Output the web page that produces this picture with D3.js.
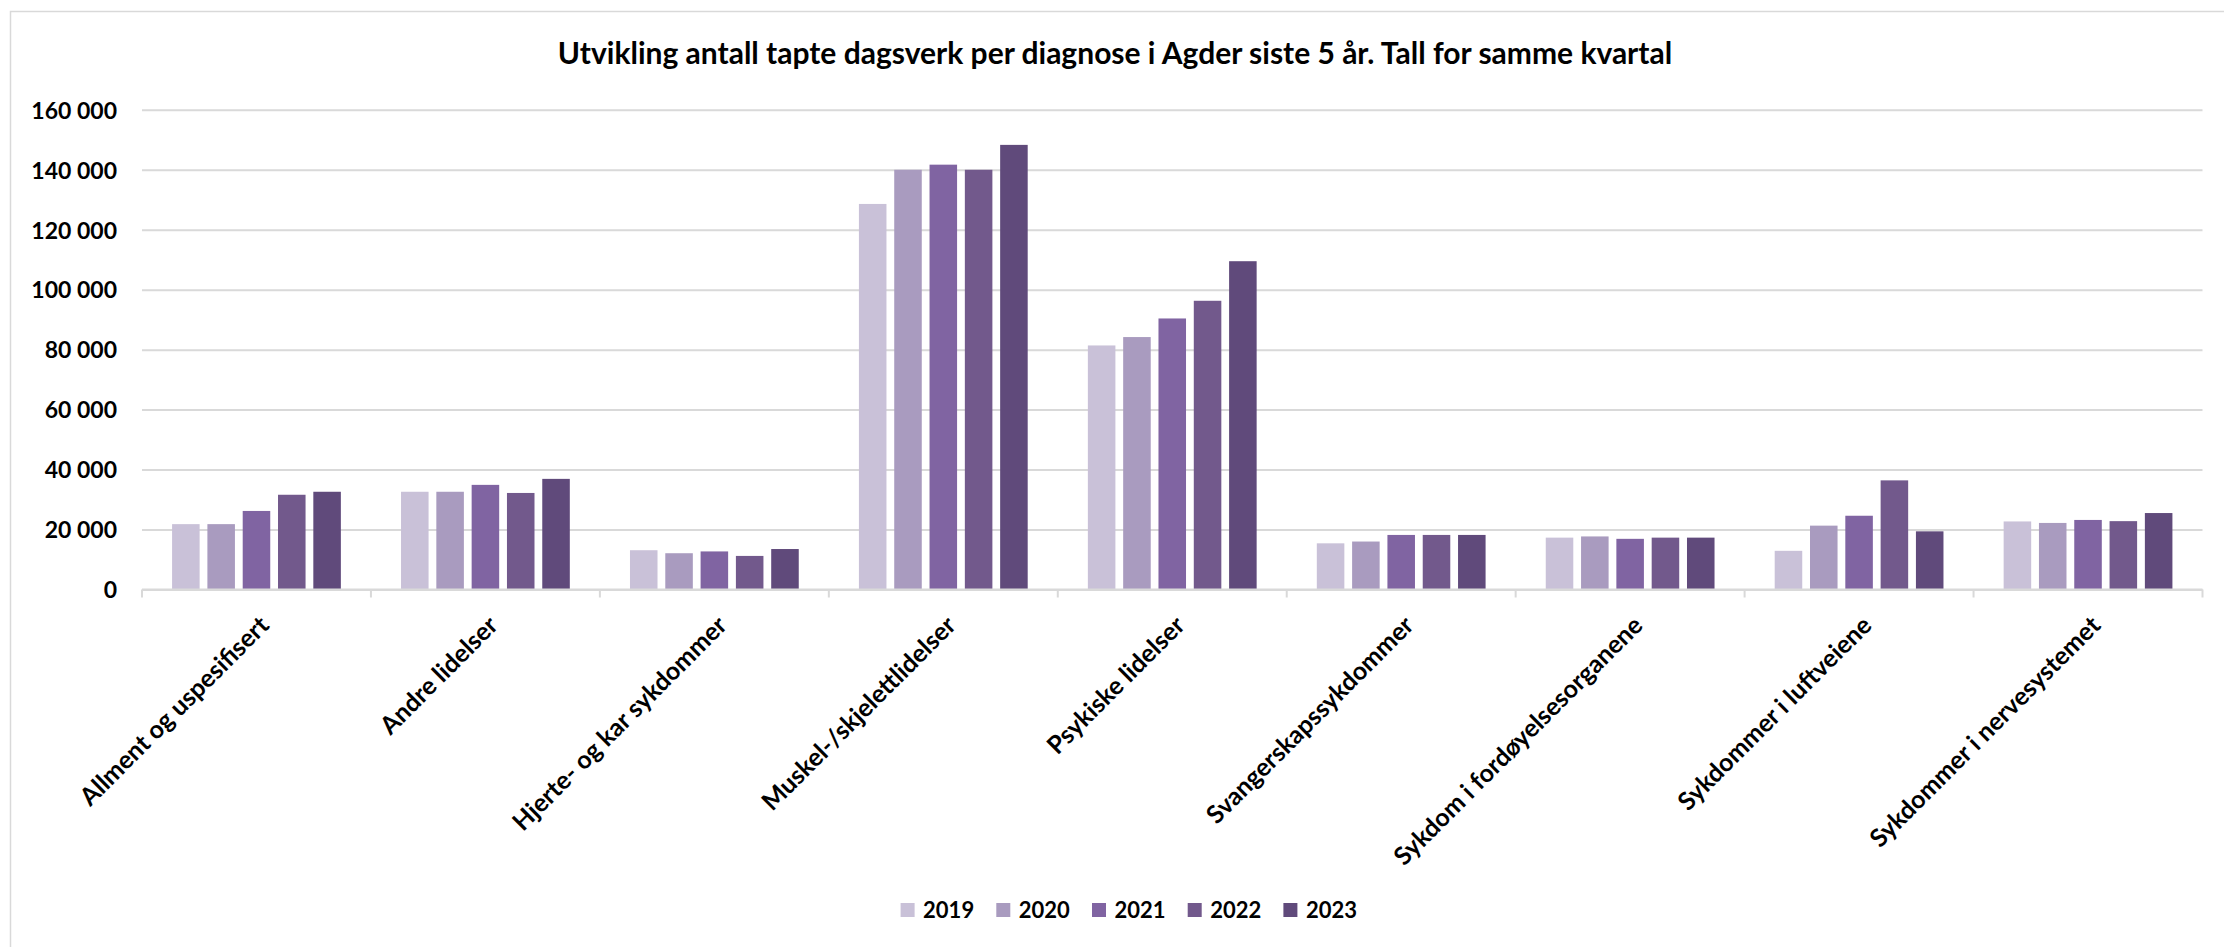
<!DOCTYPE html>
<html>
<head>
<meta charset="utf-8">
<script src="https://cdn.jsdelivr.net/npm/d3@7/dist/d3.min.js"></script>
<style>
  html, body { margin: 0; padding: 0; background: #ffffff; }
  svg { display: block; }
  text { font-family: "Lato", "Open Sans", sans-serif; font-weight: 700; fill: #000; }
</style>
</head>
<body>
<svg id="chart" width="2224" height="947"></svg>
<script>
// ---- data ----
const categories = [
  "Allment og uspesifisert",
  "Andre lidelser",
  "Hjerte- og kar sykdommer",
  "Muskel-/skjelettlidelser",
  "Psykiske lidelser",
  "Svangerskapssykdommer",
  "Sykdom i fordøyelsesorganene",
  "Sykdommer i luftveiene",
  "Sykdommer i nervesystemet"
];
const years = ["2019", "2020", "2021", "2022", "2023"];
const values2019 = [21800, 32600, 13100, 128600, 81400, 15400, 17300, 12900, 22700];
const values2020 = [21800, 32600, 12100, 140000, 84200, 16000, 17700, 21300, 22200];
const values2021 = [26200, 34900, 12700, 141700, 90400, 18200, 16900, 24600, 23200];
const values2022 = [31600, 32200, 11200, 140000, 96300, 18200, 17300, 36400, 22800];
const values2023 = [32600, 36900, 13500, 148300, 109500, 18200, 17300, 19400, 25500];
const yTicks = [0, 20000, 40000, 60000, 80000, 100000, 120000, 140000, 160000];
const title = "Utvikling antall tapte dagsverk per diagnose i Agder siste 5 år. Tall for samme kvartal";

const seriesValues = [values2019, values2020, values2021, values2022, values2023];
const colors = ["#c9c1d8", "#a99bbf", "#8064a2", "#72598c", "#604a7b"];

// ---- layout ----
const svg = d3.select("#chart");
const plotLeft = 142, plotRight = 2202.5, plotTop = 109.8, plotBottom = 589.5;

// chart border (extends past right/bottom edge like the cropped source)
svg.append("rect")
  .attr("x", 10.5).attr("y", 11.5)
  .attr("width", 2400).attr("height", 1200)
  .attr("fill", "none").attr("stroke", "#d9d9d9").attr("stroke-width", 1.5);

const x0 = d3.scaleBand().domain(categories).range([plotLeft, plotRight]).paddingInner(0).paddingOuter(0);
const x1 = d3.scaleBand().domain(years).range([0, x0.bandwidth()]).paddingInner(0.22).paddingOuter(0.852);
const y = d3.scaleLinear().domain([0, 160000]).range([plotBottom, plotTop]);
const color = d3.scaleOrdinal().domain(years).range(colors);

// title
svg.append("text")
  .attr("x", 1115).attr("y", 64)
  .attr("text-anchor", "middle")
  .style("font-size", "30px")
  .text(title);

// gridlines + y axis labels
const yAxis = d3.axisLeft(y)
  .tickValues(yTicks)
  .tickSize(-(plotRight - plotLeft))
  .tickPadding(25)
  .tickFormat(d => d3.format(",")(d).replace(/,/g, " "));
const gy = svg.append("g").attr("transform", `translate(${plotLeft},0)`).call(yAxis);
gy.select(".domain").remove();
gy.selectAll(".tick line").attr("stroke", "#d9d9d9").attr("stroke-width", 2);
gy.selectAll(".tick text").style("font-size", "23px").attr("fill", "#000").attr("dy", "0.36em");

// bars
const barData = [];
categories.forEach((c, ci) => {
  years.forEach((yr, si) => {
    barData.push({ cat: c, year: yr, value: seriesValues[si][ci] });
  });
});
svg.append("g").selectAll("rect")
  .data(barData)
  .join("rect")
  .attr("x", d => x0(d.cat) + x1(d.year))
  .attr("y", d => y(d.value))
  .attr("width", x1.bandwidth())
  .attr("height", d => y(0) - y(d.value))
  .attr("fill", d => color(d.year));

// category axis line and ticks at boundaries
const gx = svg.append("g");
gx.append("line")
  .attr("x1", plotLeft).attr("x2", plotRight)
  .attr("y1", y(0)).attr("y2", y(0))
  .attr("stroke", "#d9d9d9").attr("stroke-width", 2);
const boundaries = categories.map(c => x0(c)).concat([x0(categories[categories.length - 1]) + x0.bandwidth()]);
gx.selectAll("line.tk")
  .data(boundaries)
  .join("line")
  .attr("class", "tk")
  .attr("x1", d => d).attr("x2", d => d)
  .attr("y1", y(0)).attr("y2", y(0) + 8)
  .attr("stroke", "#d9d9d9").attr("stroke-width", 2);

// rotated category labels
gx.selectAll("text.cat")
  .data(categories)
  .join("text")
  .attr("class", "cat")
  .attr("text-anchor", "end")
  .style("font-size", "25px")
  .attr("transform", d => `translate(${x0(d) + x0.bandwidth() / 2 + 14},${627}) rotate(-45)`)
  .text(d => d);

// legend
const legend = svg.append("g").attr("transform", "translate(900.6,903)");
const li = legend.selectAll("g").data(years).join("g")
  .attr("transform", (d, i) => `translate(${i * 95.7},0)`);
li.append("rect").attr("width", 14).attr("height", 14).attr("fill", d => color(d));
li.append("text").attr("x", 22.5).attr("y", 14.5).style("font-size", "22px").text(d => d);
</script>
</body>
</html>
